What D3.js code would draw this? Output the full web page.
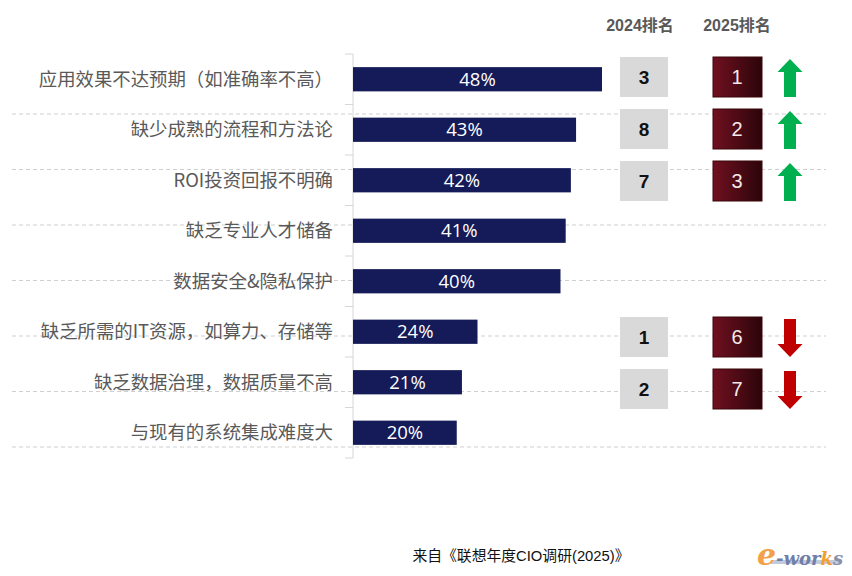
<!DOCTYPE html>
<html>
<head>
<meta charset="utf-8">
<script src="https://cdn.jsdelivr.net/npm/d3@7"></script>
<style>
  body { margin: 0; background: #fff; }
  svg { display: block; }
</style>
</head>
<body>
<svg id="chart"></svg>
<script>
// chart data
var categories = [
  "应用效果不达预期（如准确率不高）",
  "缺少成熟的流程和方法论",
  "ROI投资回报不明确",
  "缺乏专业人才储备",
  "数据安全&隐私保护",
  "缺乏所需的IT资源，如算力、存储等",
  "缺乏数据治理，数据质量不高",
  "与现有的系统集成难度大"
];
var values = [48, 43, 42, 41, 40, 24, 21, 20];
var rank2024 = [3, 8, 7, null, null, 1, 2, null];
var rank2025 = [1, 2, 3, null, null, 6, 7, null];
var headers = ["2024排名", "2025排名"];
var source = "来自《联想年度CIO调研(2025)》";

var width = 852, height = 576;
var cjk = "'Noto Sans CJK SC', 'Noto Sans', sans-serif";

var svg = d3.select("#chart")
    .attr("width", width)
    .attr("height", height);

var defs = svg.append("defs");
var grad = defs.append("linearGradient")
    .attr("id", "rankGrad")
    .attr("x1", "0%").attr("x2", "100%")
    .attr("y1", "0%").attr("y2", "0%");
grad.append("stop").attr("offset", "0%").attr("stop-color", "#701020");
grad.append("stop").attr("offset", "100%").attr("stop-color", "#2c050a");

var x = d3.scaleLinear().domain([0, 48]).range([353, 602]);
var y = d3.scaleBand().domain(categories).range([54, 458])
    .paddingInner(0.52).paddingOuter(0.26);

// rows of the ranking table on the right
var row = d3.scaleLinear().domain([0, 1]).range([77, 129]);

// dashed separators (table rows behind chart)
var sep = d3.scaleLinear().domain([0, 1]).range([58.5, 114]);
svg.append("g").selectAll("line")
    .data(d3.range(1, 8))
  .enter().append("line")
    .attr("x1", 12).attr("x2", 826)
    .attr("y1", function(d) { return sep(d); })
    .attr("y2", function(d) { return sep(d); })
    .style("stroke", "#cfcfcf")
    .style("stroke-width", 1)
    .style("stroke-dasharray", "4,3");

// axis line with ticks on band edges
var step = y.step();
var axis = svg.append("g").style("stroke", "#d6d6d6").style("stroke-width", 1);
axis.append("line")
    .attr("x1", 353).attr("x2", 353)
    .attr("y1", y.range()[0]).attr("y2", y.range()[1]);
axis.selectAll(".tick")
    .data(d3.range(categories.length + 1))
  .enter().append("line")
    .attr("x1", 345).attr("x2", 353)
    .attr("y1", function(d) { return y.range()[0] + d * step; })
    .attr("y2", function(d) { return y.range()[0] + d * step; });

// category labels
svg.append("g").selectAll("text")
    .data(categories)
  .enter().append("text")
    .attr("x", 333)
    .attr("y", function(d) { return y(d) + y.bandwidth() / 2; })
    .attr("dy", "0.35em")
    .attr("text-anchor", "end")
    .style("font-family", cjk)
    .style("font-size", "18.4px")
    .style("fill", "#595959")
    .text(function(d) { return d; });

// bars
svg.append("g").selectAll("rect")
    .data(values)
  .enter().append("rect")
    .attr("x", x(0))
    .attr("y", function(d, i) { return y(categories[i]); })
    .attr("width", function(d) { return x(d) - x(0); })
    .attr("height", y.bandwidth())
    .style("fill", "#141b58");

svg.append("g").selectAll("text")
    .data(values)
  .enter().append("text")
    .attr("x", function(d) { return (x(0) + x(d)) / 2; })
    .attr("y", function(d, i) { return y(categories[i]) + y.bandwidth() / 2; })
    .attr("dy", "0.36em")
    .attr("text-anchor", "middle")
    .style("font-family", "'Open Sans', sans-serif")
    .style("font-size", "18.5px")
    .style("fill", "#fff")
    .text(function(d) { return d + "%"; });

// table headers
svg.append("g").selectAll("text")
    .data(headers)
  .enter().append("text")
    .attr("x", function(d, i) { return i == 0 ? 640 : 737; })
    .attr("y", 31)
    .attr("text-anchor", "middle")
    .style("font-family", "'Liberation Sans', " + cjk)
    .style("font-weight", "bold")
    .style("font-size", "16px")
    .style("fill", "#595959")
    .text(function(d) { return d; });

// 2024 rank boxes
var r24 = rank2024.map(function(d, i) { return {r: d, i: i}; })
    .filter(function(d) { return d.r != null; });
var g24 = svg.append("g").selectAll("g")
    .data(r24)
  .enter().append("g")
    .attr("transform", function(d) { return "translate(644," + row(d.i) + ")"; });
g24.append("rect")
    .attr("x", -24).attr("y", -20)
    .attr("width", 48).attr("height", 40)
    .style("fill", "#d9d9d9");
g24.append("text")
    .attr("text-anchor", "middle")
    .attr("dy", "0.36em")
    .style("font-family", "'Liberation Sans', Arial, sans-serif")
    .style("font-weight", "bold")
    .style("font-size", "19px")
    .style("fill", "#111")
    .text(function(d) { return d.r; });

// 2025 rank boxes and arrows
var r25 = rank2025.map(function(d, i) { return {r: d, old: rank2024[i], i: i}; })
    .filter(function(d) { return d.r != null; });
var g25 = svg.append("g").selectAll("g")
    .data(r25)
  .enter().append("g")
    .attr("transform", function(d) { return "translate(737," + row(d.i) + ")"; });
g25.append("rect")
    .attr("x", -24).attr("y", -20)
    .attr("width", 49).attr("height", 40)
    .style("fill", "url(#rankGrad)")
    .style("stroke", "#3a0609")
    .style("stroke-width", 1);
g25.append("text")
    .attr("text-anchor", "middle")
    .attr("dy", "0.36em")
    .style("font-family", "'Liberation Sans', Arial, sans-serif")
    .style("font-size", "20px")
    .style("fill", "#f4eaea")
    .text(function(d) { return d.r; });

var upArrow = "M0,-19 L12.5,-6 L6,-6 L6,19 L-6,19 L-6,-6 L-12.5,-6 Z";
var downArrow = "M0,19 L12.5,6 L6,6 L6,-19 L-6,-19 L-6,6 L-12.5,6 Z";
g25.append("path")
    .attr("transform", "translate(53,1)")
    .attr("d", function(d) { return d.r < d.old ? upArrow : downArrow; })
    .style("fill", function(d) { return d.r < d.old ? "#00b050" : "#c00000"; });

// source note
svg.append("text")
    .attr("x", 521)
    .attr("y", 561)
    .attr("text-anchor", "middle")
    .style("font-family", "'Liberation Sans', " + cjk)
    .style("font-size", "14.8px")
    .style("fill", "#111")
    .text(source);

// e-works logo
var logo = svg.append("g").attr("transform", "translate(757,565)");
logo.append("rect")
    .attr("x", 14).attr("y", -5).attr("width", 68).attr("height", 4)
    .style("fill", "#9aa6c8").style("opacity", 0.6);
var lt = logo.append("text")
    .style("font-family", "'DejaVu Serif', serif")
    .style("font-style", "italic")
    .style("font-weight", "bold");
lt.append("tspan").text("e").style("font-size", "30px").style("fill", "#f2a14a");
lt.append("tspan").text("-wor").style("font-size", "18px").style("fill", "#6f7fa8");
lt.append("tspan").text("k").style("font-size", "18px").style("fill", "#f0a030");
lt.append("tspan").text("s").style("font-size", "18px").style("fill", "#8890a8");
</script>
</body>
</html>
